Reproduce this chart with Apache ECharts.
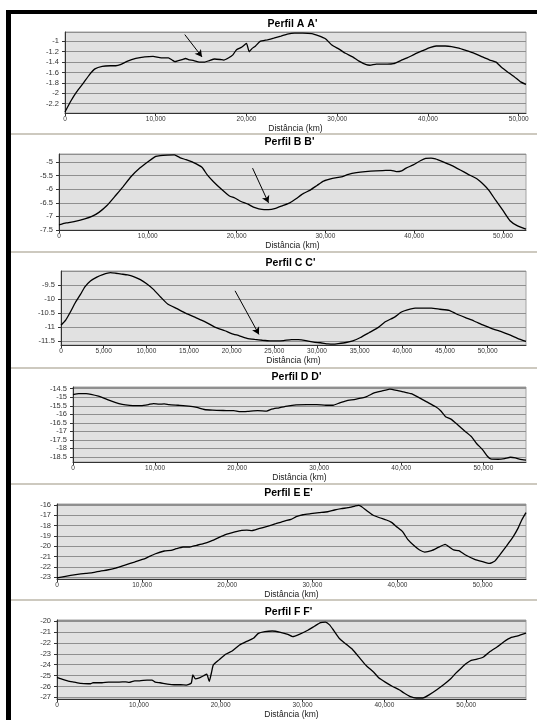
<!DOCTYPE html>
<html>
<head>
<meta charset="utf-8">
<script src="https://cdn.jsdelivr.net/npm/echarts@6/dist/echarts.min.js"></script>
<style>
  html, body { margin: 0; padding: 0; background: #ffffff; }
  #chart { width: 537px; height: 720px; }
</style>
</head>
<body>
<div id="chart"></div>
<script>
// ---- Profile data: distance along the section and depth value ----
const distA = [0,680,1300,2000,2700,3300,4100,5000,5600,6100,6900,7800,8800,9700,10600,11400,11800,12100,12500,12900,13300,13600,14200,14800,15400,15900,16500,17100,17500,18000,18500,18900,19500,20000,20300,20600,21000,21500,22300,23000,23800,24500,25300,26200,27200,27900,28700,29400,30200,30900,31700,32400,33200,33600,34300,35500,36200,37000,37700,38500,39400,40200,40900,41900,42600,43400,44100,45100,46000,46800,47500,48100,48700,49500,50200,50800];
const depthA = [-2.36,-2.14,-1.97,-1.81,-1.64,-1.53,-1.48,-1.47,-1.47,-1.45,-1.38,-1.33,-1.30,-1.29,-1.32,-1.32,-1.36,-1.39,-1.37,-1.35,-1.33,-1.35,-1.37,-1.40,-1.40,-1.37,-1.34,-1.35,-1.36,-1.32,-1.26,-1.16,-1.11,-1.04,-1.20,-1.14,-1.09,-1.00,-0.97,-0.94,-0.90,-0.86,-0.84,-0.84,-0.85,-0.89,-0.95,-1.07,-1.15,-1.23,-1.30,-1.38,-1.45,-1.46,-1.44,-1.44,-1.43,-1.37,-1.32,-1.25,-1.18,-1.12,-1.09,-1.09,-1.10,-1.13,-1.17,-1.23,-1.30,-1.36,-1.40,-1.50,-1.58,-1.68,-1.78,-1.83];

const distB = [0,800,1700,2900,3700,4500,5400,6400,7200,8100,9100,10100,10900,11400,12200,13000,13600,14300,15100,16100,16700,17400,18400,19200,19800,20500,21300,21900,22500,23100,23600,24400,25200,26000,26700,27500,28300,29100,29800,30800,31800,32600,33500,34500,35700,36800,37400,38000,38600,39100,39900,40700,41300,41900,42400,43200,44200,45200,46100,47100,47900,48400,49200,50000,50800,51600,52600];
const depthB = [-7.31,-7.24,-7.19,-7.09,-7.00,-6.85,-6.60,-6.22,-5.91,-5.54,-5.22,-4.97,-4.79,-4.76,-4.74,-4.73,-4.83,-4.91,-5.01,-5.19,-5.47,-5.72,-6.03,-6.25,-6.32,-6.45,-6.55,-6.66,-6.72,-6.75,-6.75,-6.70,-6.60,-6.50,-6.35,-6.16,-6.03,-5.85,-5.70,-5.60,-5.54,-5.45,-5.39,-5.35,-5.32,-5.30,-5.30,-5.35,-5.32,-5.22,-5.10,-4.95,-4.86,-4.85,-4.88,-4.98,-5.12,-5.29,-5.45,-5.62,-5.85,-6.03,-6.41,-6.78,-7.16,-7.34,-7.47];

const distC = [0,550,1100,1700,2300,2800,3450,4200,4900,5800,6400,7100,7800,8500,9300,10000,10800,11700,12500,13600,14600,15800,16900,18100,19200,20000,20900,21800,22700,23600,24500,25300,26100,27000,27800,28700,29600,30400,31300,31900,32500,33400,34200,35100,36100,37200,38000,39100,39900,40600,41500,42300,43400,44400,45500,46300,47400,48400,49500,50500,51600,52600,53500,54500];
const depthC = [-10.94,-10.76,-10.47,-10.12,-9.83,-9.57,-9.36,-9.22,-9.13,-9.06,-9.08,-9.11,-9.14,-9.20,-9.31,-9.45,-9.65,-9.94,-10.18,-10.35,-10.51,-10.67,-10.82,-11.02,-11.14,-11.24,-11.32,-11.41,-11.45,-11.48,-11.50,-11.50,-11.49,-11.46,-11.46,-11.49,-11.55,-11.57,-11.61,-11.62,-11.60,-11.56,-11.50,-11.38,-11.21,-11.02,-10.82,-10.65,-10.47,-10.39,-10.33,-10.33,-10.33,-10.37,-10.41,-10.53,-10.67,-10.79,-10.94,-11.06,-11.17,-11.29,-11.41,-11.52];

const distD = [0,700,1600,2200,3100,3900,4700,5600,6400,7300,8300,9200,9800,10500,11100,11700,12800,14100,15100,16000,17000,18300,19600,20400,21300,22500,23600,24200,25100,26100,27200,28500,29700,30800,31700,32500,33300,34400,35700,36700,37600,38600,39500,40300,41200,42000,43100,44200,44800,45400,46100,46900,47800,48600,49200,49900,50500,50900,51800,52600,53300,53900,54500,55200];
const depthD = [-14.85,-14.79,-14.79,-14.83,-14.94,-15.08,-15.23,-15.37,-15.45,-15.49,-15.49,-15.43,-15.37,-15.41,-15.39,-15.43,-15.47,-15.52,-15.60,-15.72,-15.76,-15.78,-15.79,-15.85,-15.83,-15.79,-15.81,-15.70,-15.62,-15.52,-15.45,-15.43,-15.43,-15.47,-15.47,-15.33,-15.21,-15.12,-14.98,-14.75,-14.64,-14.52,-14.60,-14.69,-14.79,-14.98,-15.27,-15.56,-15.79,-16.14,-16.30,-16.63,-17.01,-17.34,-17.73,-18.07,-18.46,-18.62,-18.64,-18.60,-18.52,-18.56,-18.65,-18.69];

const distE = [0,1000,2200,3400,4200,5100,5900,6900,7900,9100,10400,11500,12600,13400,14000,14800,15600,16400,17200,18000,18800,19800,20900,21700,22300,22900,23700,24700,25700,26700,27500,28100,28900,29800,30800,31800,32600,33400,34200,35000,35400,35800,36400,37100,37900,38700,39300,39900,40600,41200,42000,42600,43200,44000,44800,45600,46200,46600,47200,48000,49000,50000,50800,51400,52000,52800,53600,54200,54600,55100];
const depthE = [-23.06,-22.90,-22.74,-22.61,-22.55,-22.39,-22.29,-22.10,-21.84,-21.52,-21.16,-20.74,-20.45,-20.39,-20.23,-20.06,-20.06,-19.90,-19.74,-19.52,-19.23,-18.87,-18.61,-18.45,-18.42,-18.48,-18.29,-18.06,-17.81,-17.55,-17.39,-17.13,-16.94,-16.84,-16.74,-16.65,-16.48,-16.35,-16.26,-16.10,-16.03,-16.16,-16.55,-16.97,-17.23,-17.45,-17.68,-18.10,-18.58,-19.32,-19.97,-20.35,-20.55,-20.42,-20.10,-19.81,-20.13,-20.35,-20.42,-20.84,-21.23,-21.48,-21.65,-21.45,-20.84,-19.97,-19.06,-18.19,-17.45,-16.74];

const distF = [0,600,1300,2100,2900,3800,4100,4400,5500,6300,7600,8400,8800,9500,10100,11000,11600,12000,12600,13500,14300,15100,15800,16400,16600,16900,17300,17900,18300,18600,18900,19100,19800,20600,21400,22300,23100,24000,24600,25400,26300,27300,28200,28800,29600,30700,31500,32200,32800,33300,33800,34500,35300,36100,37000,37800,38700,39300,40100,41000,41800,42400,43100,43900,44700,45500,46400,47300,48100,48700,49400,50000,50600,51300,52100,52900,53800,54600,55500,56300,57300];
const depthF = [-25.17,-25.33,-25.48,-25.60,-25.72,-25.75,-25.75,-25.66,-25.66,-25.60,-25.60,-25.57,-25.63,-25.48,-25.48,-25.42,-25.42,-25.60,-25.66,-25.78,-25.84,-25.84,-25.87,-25.69,-24.93,-25.30,-25.24,-25.02,-24.87,-25.54,-24.63,-24.02,-23.56,-23.04,-22.74,-22.19,-21.89,-21.58,-21.13,-20.97,-20.91,-21.03,-21.22,-21.43,-21.22,-20.82,-20.45,-20.15,-20.10,-20.35,-20.85,-21.60,-22.10,-22.60,-23.40,-24.10,-24.70,-25.20,-25.60,-26.00,-26.30,-26.60,-26.90,-27.06,-27.06,-26.75,-26.30,-25.80,-25.30,-24.80,-24.30,-23.90,-23.60,-23.50,-23.30,-22.80,-22.35,-21.90,-21.50,-21.35,-21.10,-21.03];

// Annotation arrows: [startDist, startDepth, endDist, endDepth]
const arrowA = [13200, -0.87, 15100, -1.30];
const arrowB = [21800, -5.22, 23600, -6.50];
const arrowC = [20400, -9.71, 23200, -11.27];

// Axis extents and tick steps
const titles = ["Perfil A A'", "Perfil B B'", "Perfil C C'", "Perfil D D'", "Perfil E E'", "Perfil F F'"];
const distMax = [50800, 52600, 54500, 55200, 55100, 57300];
const distStep = [10000, 10000, 5000, 10000, 10000, 10000];
const depthMin = [-2.38, -7.5, -11.65, -18.8, -23.16, -27.15];
const depthMax = [-0.82, -4.7, -9.0, -14.4, -15.9, -19.9];
const depthStep = [0.2, 0.5, 0.5, 0.5, 1, 1];
const xAxisName = 'Distância (km)';

const dists = [distA, distB, distC, distD, distE, distF];
const depths = [depthA, depthB, depthC, depthD, depthE, depthF];
const arrows = [arrowA, arrowB, arrowC, null, null, null];

// Layout of the six stacked plot areas (pixels)
const boxes = [
  { left: 65, top: 32,  width: 461, height: 81 },
  { left: 59, top: 154, width: 467, height: 76 },
  { left: 61, top: 271, width: 465, height: 74 },
  { left: 73, top: 387, width: 453, height: 75 },
  { left: 57, top: 504, width: 469, height: 75 },
  { left: 57, top: 620, width: 469, height: 79 }
];
const titleY = [19, 137, 258, 372, 488, 607];
const separatorsY = [134, 252, 368, 484, 600];

const FONT = '"Liberation Sans", Arial, sans-serif';
const addCommas = v => String(Math.round(v)).replace(/\B(?=(\d{3})+(?!\d))/g, ',');

const chart = echarts.init(document.getElementById('chart'), null, { renderer: 'canvas' });

const grid = boxes.map(b => ({
  left: b.left, top: b.top, width: b.width, height: b.height,
  show: true, backgroundColor: '#e1e1e1', borderColor: '#a3a3a3', borderWidth: 1,
  containLabel: false
}));

const title = titles.map((t, i) => ({
  text: t,
  left: boxes[i].left + boxes[i].width / 2 - 3,
  top: titleY[i],
  textAlign: 'center',
  padding: 0,
  textStyle: { fontFamily: FONT, fontSize: 10.5, fontWeight: 'bold', color: '#000' }
}));

const xAxis = boxes.map((b, i) => ({
  gridIndex: i, type: 'value', min: 0, max: distMax[i], interval: distStep[i],
  name: xAxisName, nameLocation: 'middle', nameGap: 11,
  nameTextStyle: { fontFamily: FONT, fontSize: 8.5, color: '#222' },
  axisLine: { show: true, onZero: false, lineStyle: { color: '#333', width: 1 } },
  axisTick: { show: true, length: 3, lineStyle: { color: '#333' } },
  axisLabel: { fontFamily: FONT, fontSize: 6.5, color: '#333', margin: 3,
               showMaxLabel: false, formatter: addCommas },
  splitLine: { show: false }
}));

const yAxis = boxes.map((b, i) => ({
  gridIndex: i, type: 'value', min: depthMin[i], max: depthMax[i],
  minInterval: depthStep[i], maxInterval: depthStep[i],
  axisLine: { show: true, onZero: false, lineStyle: { color: '#333', width: 1 } },
  axisTick: { show: true, length: 3, lineStyle: { color: '#333' } },
  axisLabel: { fontFamily: FONT, fontSize: 7.5, color: '#333', margin: 6,
               showMinLabel: i === 1, showMaxLabel: false },
  splitLine: { show: true, lineStyle: { color: '#8f8f8f', width: 1 } }
}));

const series = dists.map((d, i) => {
  const s = {
    type: 'line', xAxisIndex: i, yAxisIndex: i,
    data: d.map((x, k) => [x, depths[i][k]]),
    showSymbol: false, smooth: 0.15, silent: true,
    lineStyle: { color: '#000', width: 1.3 }
  };
  const a = arrows[i];
  if (a) {
    s.markLine = {
      silent: true, symbol: ['none', 'arrow'], symbolSize: [6, 7],
      label: { show: false },
      lineStyle: { color: '#000', width: 1, type: 'solid' },
      data: [[{ coord: [a[0], a[1]] }, { coord: [a[2], a[3]] }]]
    };
  }
  return s;
});

const graphic = [
  { type: 'rect', shape: { x: 6, y: 10, width: 531, height: 4 }, style: { fill: '#000' }, silent: true },
  { type: 'rect', shape: { x: 6, y: 10, width: 5, height: 710 }, style: { fill: '#000' }, silent: true }
].concat(separatorsY.map(y => ({
  type: 'line', shape: { x1: 11, y1: y, x2: 537, y2: y },
  style: { stroke: '#cdc9bf', lineWidth: 2 }, silent: true
})));

chart.setOption({
  animation: false,
  backgroundColor: '#ffffff',
  title, grid, xAxis, yAxis, series, graphic
});
</script>
</body>
</html>
